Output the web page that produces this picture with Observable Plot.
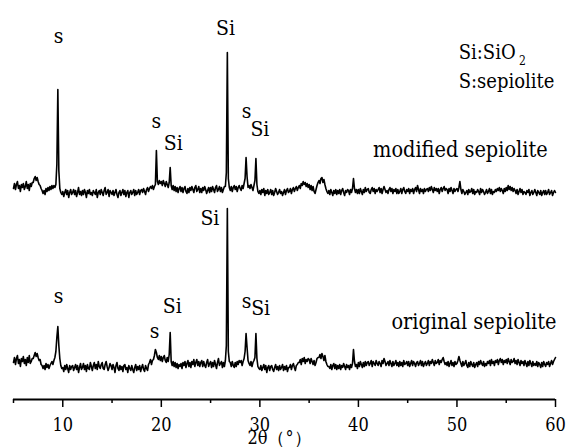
<!DOCTYPE html>
<html><head><meta charset="utf-8">
<script src="https://cdn.jsdelivr.net/npm/d3@7"></script>
<script src="https://cdn.jsdelivr.net/npm/@observablehq/plot@0.6"></script>
<style>
html,body{margin:0;padding:0;background:#fff}
</style>
</head><body><div id="chart"></div>
<script>
const start = 5, step = 0.1;
const original = [
5,10,3,9,12,4,8,1,9,6,
11,4,8,2,10,5,12,4,6,9,
9,12,15,11,14,10,7,8,3,2,
-1,2,-2,4,0,3,-1,2,4,6,
3,7,10,16,30,41,22,9,2,-1,
0,-4,2,-2,3,-1,-5,2,-2,1,
2,-3,0,3,-2,2,-5,0,4,-2,
0,4,-2,2,-4,3,-1,-2,5,1,
-3,2,5,-1,3,-2,6,1,-1,3,
5,-1,-2,3,6,1,-3,0,4,2,
-2,3,0,-5,2,5,-1,-3,2,-2,
1,-4,2,3,-2,0,-5,2,-1,-3,
2,-2,-5,0,3,-3,1,-2,2,-4,
0,3,-2,-4,2,-1,-3,3,5,8,
3,7,8,12,18,15,10,8,12,7,
11,6,10,12,7,5,10,6,13,35,
6,2,6,1,5,0,4,-1,3,1,
4,-1,5,2,6,0,4,7,1,5,
0,6,3,8,1,5,8,2,6,1,
5,7,1,6,2,0,5,8,1,4,
6,0,5,1,7,3,-1,5,9,2,
4,6,0,5,1,7,22,159,16,6,
5,1,6,2,0,5,1,6,3,7,
5,7,2,6,9,16,34,20,7,4,
2,6,1,5,7,10,34,9,1,-1,
-2,2,-3,0,3,-2,2,-5,0,2,
-3,1,2,-2,-4,0,3,-2,1,-3,
2,-2,0,3,-3,1,-2,2,-4,0,
0,3,-2,2,4,0,-3,2,3,5,
5,8,3,9,6,10,4,8,6,9,
8,4,9,6,3,7,2,5,9,10,
10,13,9,14,11,7,12,6,3,1,
1,-1,3,-2,2,4,-1,3,-2,2,
-1,3,-2,2,0,4,1,-2,3,0,
2,-2,3,0,4,18,6,1,3,-1,
5,1,6,3,0,5,1,6,2,5,
6,2,4,7,1,6,4,2,7,4,
2,6,4,1,7,4,9,6,2,4,
6,2,7,4,1,6,2,4,7,2,
5,1,6,2,5,1,7,3,4,6,
2,6,1,4,7,2,6,4,1,5,
6,2,4,7,2,6,1,4,6,2,
4,7,2,6,4,8,5,2,7,4,
5,8,3,7,5,8,10,6,3,5,
2,6,1,4,7,2,5,1,6,3,
4,7,11,7,4,1,6,2,4,7,
2,0,5,1,6,3,1,5,0,3,
5,1,6,3,7,4,2,6,1,4,
2,6,4,7,2,8,4,6,2,7,
5,8,3,7,9,5,8,3,7,5,
8,4,9,6,3,8,5,6,9,4,
7,3,8,5,2,7,4,6,2,7,
4,1,6,2,7,4,1,6,2,4,
2,6,1,5,3,0,5,1,6,3,
1,5,3,6,1,4,7,3,6,8,
10
];
const modified = [
4,9,3,8,11,4,7,1,8,5,
9,3,6,11,4,8,2,9,6,10,
10,14,16,12,15,11,8,7,4,2,
-1,2,-2,4,1,5,2,6,3,7,
4,7,5,8,28,103,22,4,0,-2,
1,-4,0,3,-2,2,-5,0,3,-2,
0,3,-2,2,-4,0,5,-2,1,-3,
2,-2,3,0,-5,2,-1,3,-2,0,
-3,2,0,-2,3,-5,0,2,-2,3,
0,-3,2,5,-2,0,3,-4,2,0,
-2,2,-3,0,3,-2,-5,0,2,-3,
0,3,-2,2,-4,0,2,-5,0,2,
-2,0,3,-3,2,-2,0,3,-2,2,
3,0,4,1,-2,3,5,1,4,6,
4,7,3,6,8,42,11,8,12,9,
11,7,12,9,6,11,8,5,10,25,
7,3,7,2,6,1,5,0,4,6,
1,5,0,4,6,1,-1,4,0,5,
2,6,3,0,5,7,1,3,6,0,
4,0,5,2,6,3,-1,2,5,0,
5,1,6,3,0,5,7,1,3,6,
1,5,0,3,6,6,20,140,14,5,
2,6,1,5,7,3,6,1,5,7,
4,2,7,4,9,14,35,16,5,7,
4,8,5,2,7,12,34,8,1,-1,
2,-2,3,0,4,-3,2,-1,3,-2,
0,3,-2,2,-3,0,4,1,-2,0,
3,-1,1,-3,0,3,-2,2,4,0,
1,4,-1,3,5,1,4,6,2,5,
7,4,9,7,11,8,10,6,9,5,
8,3,7,2,6,1,-1,3,7,10,
12,9,14,15,10,13,8,4,1,-1,
2,-2,3,0,-3,2,-1,3,-2,2,
-1,3,-2,2,4,0,-3,2,0,3,
2,-2,3,0,4,14,4,0,3,-1,
3,-1,4,1,-2,3,0,5,1,3,
4,0,-1,3,5,1,4,-1,3,1,
3,5,0,4,-1,3,6,3,0,2,
-1,3,5,1,4,-1,3,1,4,-1,
3,-1,1,4,-1,3,5,1,-1,3,
1,4,-1,3,1,4,-1,3,5,1,
7,3,-1,4,1,3,-1,4,1,3,
4,1,5,2,6,3,0,5,2,4,
1,4,-1,3,5,1,4,6,2,4,
3,-1,4,1,5,2,-1,4,1,3,
4,1,5,11,3,-1,3,1,-2,0,
2,-2,3,0,1,4,-1,3,-2,1,
0,3,1,-2,4,0,3,1,-2,0,
3,-1,1,4,-1,3,-2,1,0,3,
1,4,2,5,1,4,2,-1,4,1,
5,2,7,3,6,2,5,1,4,2,
-1,3,-2,1,4,0,3,-2,1,0,
-2,2,0,3,-3,0,2,-2,0,3,
0,-3,2,0,-2,2,-3,0,2,-2,
2,-2,0,3,-2,0,2,-3,0,2,
0
];
const modifiedOffset = 175;

const majorTicks = [10, 20, 30, 40, 50, 60];
const minorTicks = [5, 15, 25, 35, 45, 55];
const xLabel = "2θ（°）";

const peakLabels = [
  {x: 9.57, y: 331, text: "s"},
  {x: 19.49, y: 246, text: "s"},
  {x: 21.21, y: 224, text: "Si"},
  {x: 26.52, y: 339, text: "Si"},
  {x: 28.65, y: 256, text: "s"},
  {x: 30.0, y: 238, text: "Si"},
  {x: 9.57, y: 71, text: "s"},
  {x: 19.31, y: 36, text: "s"},
  {x: 21.11, y: 61, text: "Si"},
  {x: 24.93, y: 149, text: "Si"},
  {x: 28.65, y: 66, text: "s"},
  {x: 30.08, y: 59, text: "Si"}
];
const sampleNames = [
  {x: 59.2, y: 217, text: "modified sepiolite"},
  {x: 60.1, y: 45, text: "original sepiolite"}
];
const legendLines = [
  {x: 50.18, y: 315, text: "Si:SiO"},
  {x: 50.18, y: 286, text: "S:sepiolite"}
];
const legendSubscripts = [
  {x: 56.3, y: 306, text: "2"}
];

const serif = "'DejaVu Serif Condensed','DejaVu Serif',serif";
const origRows = original.map((v, i) => ({t: start + i * step, v}));
const modRows = modified.map((v, i) => ({t: start + i * step, v: v + modifiedOffset}));

const chart = Plot.plot({
  width: 569, height: 448,
  marginLeft: 13, marginRight: 14, marginTop: 0, marginBottom: 49,
  style: {fontFamily: serif, fontSize: "18px", background: "#fff", color: "#000"},
  x: {domain: [5, 60]},
  y: {domain: [-32, 367], axis: null},
  marks: [
    Plot.ruleY([-32], {strokeWidth: 2}),
    Plot.axisX({ticks: minorTicks, tickSize: 4, tickFormat: () => "", strokeWidth: 1.5, label: null}),
    Plot.axisX({ticks: majorTicks, tickSize: 8, tickPadding: 11, strokeWidth: 1.5, fontSize: 18, fontFamily: serif, label: null, tickFormat: d3.format("d")}),
    Plot.text([xLabel], {frameAnchor: "bottom", dx: -5, dy: 39, lineAnchor: "middle", fontSize: 18, fontFamily: serif}),
    Plot.line(origRows, {x: "t", y: "v", stroke: "#000", strokeWidth: 1.6}),
    Plot.line(modRows, {x: "t", y: "v", stroke: "#000", strokeWidth: 1.6}),
    Plot.text(peakLabels, {x: "x", y: "y", text: "text", fontSize: 21, fontFamily: serif, lineAnchor: "middle"}),
    Plot.text(sampleNames, {x: "x", y: "y", text: "text", fontSize: 21.5, fontFamily: serif, textAnchor: "end", lineAnchor: "middle"}),
    Plot.text(legendLines, {x: "x", y: "y", text: "text", fontSize: 20, fontFamily: serif, textAnchor: "start", lineAnchor: "middle"}),
    Plot.text(legendSubscripts, {x: "x", y: "y", text: "text", fontSize: 12, fontFamily: serif, textAnchor: "start", lineAnchor: "middle"})
  ]
});
document.getElementById("chart").append(chart);
</script>
</body></html>
